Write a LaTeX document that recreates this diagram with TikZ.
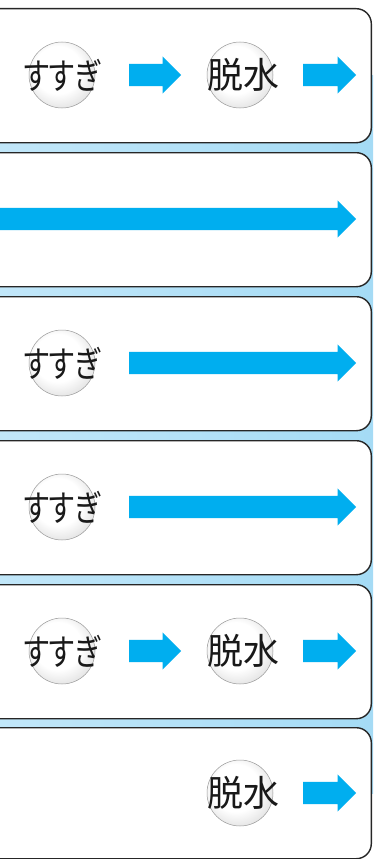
\documentclass[tikz,border=0pt]{standalone}
\usepackage{fontspec}
\newfontfamily\jpfont[RawFeature=+palt]{Noto Sans CJK JP}
\usetikzlibrary{shapes.arrows}

\definecolor{arrowblue}{HTML}{00AEEF}
\definecolor{bandleft}{HTML}{C2E7F9}
\definecolor{bandright}{HTML}{A4DBF5}
\pgfdeclareradialshading{pearl}{\pgfpoint{-5bp}{6bp}}{%
  color(0bp)=(white); color(18bp)=(white); color(50bp)=(black!32)}
\newcommand{\slim}[1]{\scalebox{0.78}[1]{#1}}

\begin{document}
\begin{tikzpicture}[x=1pt, y=-1pt,
    panel/.style={draw=black!85, line width=1.4pt, fill=white,
                  rounded corners=15pt, anchor=north east, inner sep=0pt,
                  minimum width=420pt, minimum height=#1},
    panel/.default=134pt,
    ball/.style={circle, draw=black!40, line width=0.5pt, shade, shading=pearl,
                 minimum size=66pt, inner sep=0pt},
    word/.style={font=\jpfont\fontsize{36}{36}\selectfont, text=black!90,
                 inner sep=0pt},
    push/.style={single arrow, fill=arrowblue, draw=none, anchor=tail,
                 single arrow head extend=7.5pt, inner xsep=0pt,
                 inner ysep=11pt, minimum height=#1}]
  \useasboundingbox (0,0) rectangle (373,859);
  \clip (0,0) rectangle (373,859);

  % light blue band behind the panels
  \shade[left color=bandleft, right color=bandright] (-10,75) rectangle (380,793);

  % panels
  \node[panel] (p1) at (372,8) {};
  \node[panel] (p2) at (372,152) {};
  \node[panel] (p3) at (372,296) {};
  \node[panel] (p4) at (372,440) {};
  \node[panel] (p5) at (372,584) {};
  \node[panel=131pt] (p6) at (372,727) {};

  % panel 1
  \node[ball, label={[word]center:\slim{すすぎ}}] (rinse1) at (62,75) {};
  \node[push=52pt] (a1) at (129,75) {};
  \node[ball, label={[word, xshift=3pt]center:脱水}] (spin1) at (240,75) {};
  \node[push=53pt] (a2) at (303,75) {};

  % panel 2
  \node[push=366pt] (a3) at (-10,219) {};

  % panel 3
  \node[ball, label={[word]center:\slim{すすぎ}}] (rinse3) at (62,363) {};
  \node[push=227pt] (a4) at (129,363) {};

  % panel 4
  \node[ball, label={[word]center:\slim{すすぎ}}] (rinse4) at (62,507) {};
  \node[push=227pt] (a5) at (129,507) {};

  % panel 5
  \node[ball, label={[word]center:\slim{すすぎ}}] (rinse5) at (62,651) {};
  \node[push=52pt] (a6) at (129,651) {};
  \node[ball, label={[word, xshift=3pt]center:脱水}] (spin5) at (240,651) {};
  \node[push=53pt] (a7) at (303,651) {};

  % panel 6
  \node[ball, label={[word, xshift=3pt]center:脱水}] (spin6) at (240,793) {};
  \node[push=53pt] (a8) at (303,793) {};
\end{tikzpicture}
\end{document}
